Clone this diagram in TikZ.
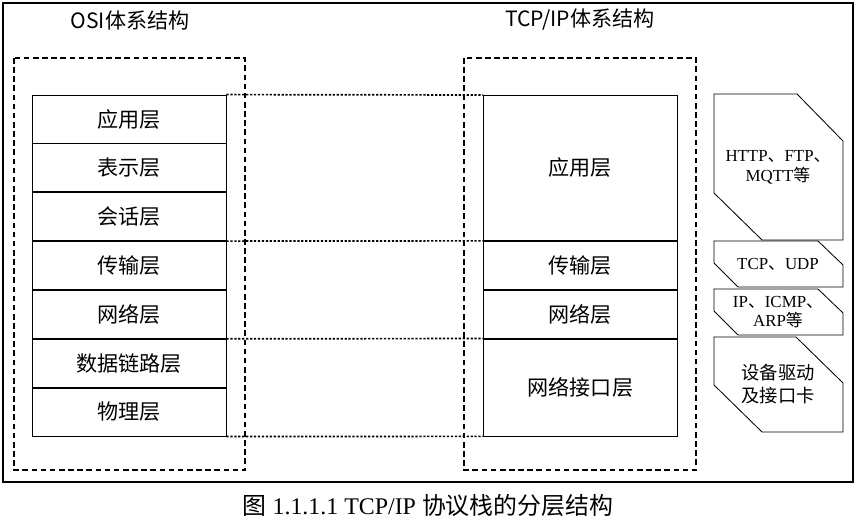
\documentclass[tikz,border=0pt]{standalone}
\usepackage{fontspec}
\setmainfont{Liberation Serif}
\newfontfamily\cjk{Noto Sans CJK SC}
\usetikzlibrary{positioning}
\begin{document}
\begin{tikzpicture}[x=0.025cm, y=-0.025cm, semithick,
      layer/.style={draw, rectangle, minimum width=194*0.025cm, inner sep=0pt, font=\cjk\fontsize{15}{17}\selectfont},
      frame/.style={draw, dash pattern=on 4pt off 2.5pt, thick},
      link/.style={dash pattern=on 1.6pt off 1.2pt, very thick},
      proto/.style={inner sep=0pt, align=center, font=\fontsize{12}{14}\selectfont}
   ]
    \useasboundingbox (0,0) rectangle (856,526);
    \draw[thick] (3,3) rectangle (853,482);
    \node at (130,20) {\cjk\fontsize{15}{17}\selectfont OSI体系结构};
    \node at (580,20) {\cjk\fontsize{15}{17}\selectfont TCP/IP体系结构};
    \draw[frame] (14,58) rectangle (245,470);
    \draw[frame] (464,58) rectangle (696,470);
    % OSI layers
    \node[layer, minimum height=48*0.025cm] (o1) at (129,119) {应用层};
    \node[layer, minimum height=48*0.025cm, below=0pt of o1] (o2) {表示层};
    \node[layer, minimum height=48*0.025cm, below=0pt of o2] (o3) {会话层};
    \node[layer, minimum height=48*0.025cm, below=0pt of o3] (o4) {传输层};
    \node[layer, minimum height=48*0.025cm, below=0pt of o4] (o5) {网络层};
    \node[layer, minimum height=48*0.025cm, below=0pt of o5] (o6) {数据链路层};
    \node[layer, minimum height=48*0.025cm, below=0pt of o6] (o7) {物理层};
    % TCP/IP layers
    \node[layer, minimum height=145*0.025cm, anchor=north west] (t1) at (483,95) {应用层};
    \node[layer, minimum height=48*0.025cm, anchor=north] (t2) at (t1.south) {传输层};
    \node[layer, minimum height=48*0.025cm, anchor=north] (t3) at (t2.south) {网络层};
    \node[layer, minimum height=97*0.025cm, anchor=north] (t4) at (t3.south) {网络接口层};
    % dotted links
    \draw[link] (o1.north east) -- (t1.north west);
    \draw[link] (o4.north east) -- (t2.north west);
    \draw[link] (o6.north east) -- (t4.north west);
    \draw[link] (o7.south east) -- (t4.south west);
    % protocols
    \draw (714,94) -- (797,94) -- (843,141) -- (843,240) -- (762,240) -- (714,193) -- cycle;
    \node[proto] (p1) at (778,167) {HTTP\cjk、\rmfamily FTP\cjk、\\MQTT\cjk 等};
    \draw (714,241) -- (818,241) -- (843,265) -- (843,287) -- (738,287) -- (714,263) -- cycle;
    \node[proto] (p2) at (778,264) {TCP\cjk、\rmfamily UDP};
    \draw (714,289) -- (818,289) -- (843,313) -- (843,335) -- (738,335) -- (714,311) -- cycle;
    \node[proto] (p3) at (778,312) {IP\cjk、\rmfamily ICMP\cjk、\\\rmfamily ARP\cjk 等};
    \draw (714,337) -- (796,337) -- (843,383) -- (843,432) -- (762,432) -- (714,385) -- cycle;
    \node[proto, font=\cjk\fontsize{13}{16}\selectfont] (p4) at (778,384) {设备驱动\\及接口卡};
    \node (cap) at (428,505) {\fontsize{17}{19}\selectfont{\cjk 图} 1.1.1.1 TCP/IP {\cjk 协议栈的分层结构}};
\end{tikzpicture}
\end{document}
